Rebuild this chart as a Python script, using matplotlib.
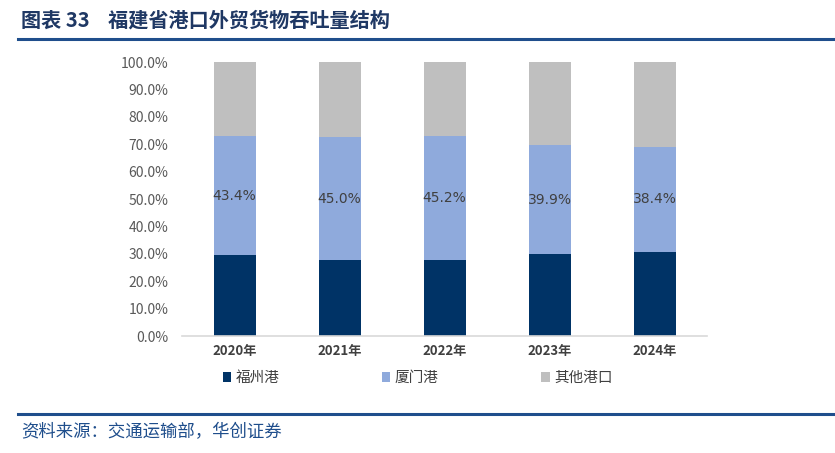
import matplotlib
matplotlib.use("Agg")
import matplotlib.pyplot as plt
from matplotlib.patches import Patch
from matplotlib.lines import Line2D
import numpy as np

plt.rcParams['font.family'] = ['Noto Sans CJK SC', 'DejaVu Sans']

years = ["2020年", "2021年", "2022年", "2023年", "2024年"]
fuzhou = [29.6, 27.7, 27.7, 29.9, 30.7]
xiamen = [43.4, 45.0, 45.2, 39.9, 38.4]
other = [100 - a - b for a, b in zip(fuzhou, xiamen)]
series_names = ["福州港", "厦门港", "其他港口"]
colors = ["#003366", "#8FAADC", "#BFBFBF"]
yticks = [0, 10, 20, 30, 40, 50, 60, 70, 80, 90, 100]

fig = plt.figure(figsize=(8.35, 4.53), dpi=100)
ax = fig.add_axes([0.218, 0.258, 0.629, 0.605])

x = np.arange(len(years))
w = 0.4
ax.bar(x, fuzhou, w, color=colors[0], label=series_names[0])
ax.bar(x, xiamen, w, bottom=fuzhou, color=colors[1], label=series_names[1])
b2 = [a + b for a, b in zip(fuzhou, xiamen)]
ax.bar(x, other, w, bottom=b2, color=colors[2], label=series_names[2])

for i in range(len(years)):
    ax.text(x[i], fuzhou[i] + xiamen[i] / 2, f"{xiamen[i]:.1f}%", ha="center", va="center",
            fontsize=10, color="#404040", family=['DejaVu Sans'])

ax.set_xlim(-0.5, len(years) - 0.5)
ax.set_ylim(0, 100)
ax.set_yticks(yticks)
ax.set_yticklabels([f"{v:.1f}%" for v in yticks], color="#595959", fontsize=10)
ax.set_xticks(x)
ax.set_xticklabels(years, color="#404040", fontsize=9.5, fontweight="bold")
for s in ["top", "right", "left"]:
    ax.spines[s].set_visible(False)
ax.spines["bottom"].set_color("#D9D9D9")
ax.spines["bottom"].set_linewidth(1.2)
ax.tick_params(axis="both", length=0, pad=6)
ax.tick_params(axis="y", pad=10)

handles = [Patch(facecolor=c, edgecolor="none") for c in colors]
leg = fig.legend(handles, series_names, loc="center", bbox_to_anchor=(0.5, 0.165), ncol=3,
                 frameon=False, handlelength=0.6, handleheight=0.6, handletextpad=0.3,
                 columnspacing=7.0, prop={'size': 10.5})
for t in leg.get_texts():
    t.set_color("#404040")

fig.text(0.025, 0.955, "图表 33    福建省港口外贸货物吞吐量结构", fontsize=14.5, fontweight="bold",
         color="#1F3864", va="center", ha="left")
fig.add_artist(Line2D([0.022, 1.0], [0.915, 0.915], color="#1F4E8C", linewidth=2.2, transform=fig.transFigure))
fig.add_artist(Line2D([0.022, 1.0], [0.087, 0.087], color="#1F4E8C", linewidth=2.2, transform=fig.transFigure))
fig.text(0.025, 0.045, "资料来源：交通运输部，华创证券", fontsize=12.5, style="italic",
         color="#1F4E8C", va="center", ha="left")

fig.savefig("out.png", dpi=100)
